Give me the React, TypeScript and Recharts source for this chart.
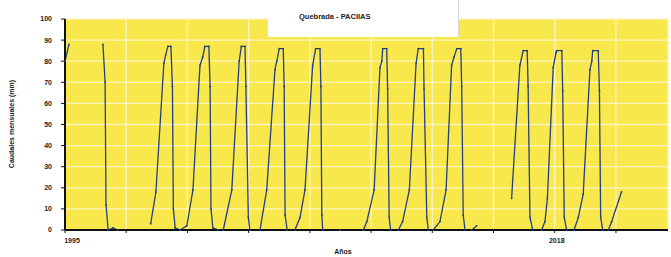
import { LineChart, Line, XAxis, YAxis, CartesianGrid } from 'recharts'

// time in months from the first record, flow (null = gap)
const months = [
  0, 1.3, 6,
  12.4, 13.1, 13.4, 14.1, 15.7, 17.3, 22,
  28.0, 29.7, 32.3, 32.9, 33.6, 34.6, 35.1, 35.4, 36.0, 37.6,
  39.8, 41.8, 44.1, 45.0, 45.7, 47.0, 47.4, 47.7, 48.3, 50.0,
  51.7, 54.5, 56.9, 57.6, 58.8, 59.1, 59.9, 60.4,
  63.7, 65.9, 68.6, 69.2, 70.0, 71.3, 71.6, 71.9, 72.6,
  75.1, 76.8, 78.4, 80.9, 81.9, 83.3, 83.6, 83.9, 84.2, 89.8,
  97.5, 98.6, 101.0, 102.9, 103.5, 103.8, 105.1, 105.4, 105.9, 106.4,
  108.9, 110.3, 112.5, 114.7, 115.4, 117.1, 117.3, 118.2, 118.7,
  120.3, 122.5, 124.5, 126.3, 127.1, 128.0, 129.3, 129.6, 130.1, 130.7, 132.9, 134.5, 140,
  145.9, 148.6, 149.7, 151.0, 151.3, 151.9, 152.8,
  155.7, 156.8, 157.6, 159.5, 160.4, 160.6, 162.3, 162.6, 163.1, 163.9,
  166.3, 167.7, 169.3, 171.5, 172.1, 172.4, 174.2, 174.6, 175.0, 175.7, 177.5,
  178.6, 181.8,
]

const caudal: (number | null)[] = [
  80, 88, null,
  88, 70, 12, 0, 1, 0, null,
  3, 18, 79, 83, 87, 87, 68, 10, 1, 0,
  2, 19, 78, 82, 87, 87, 68, 10, 1, 0,
  0, 19, 80, 87, 87, 68, 6, 0,
  0, 19, 76, 80, 86, 86, 68, 7, 0,
  0, 6, 19, 78, 86, 86, 68, 7, 0, 0,
  0, 4, 19, 77, 80, 86, 86, 67, 6, 0,
  0, 4, 19, 79, 86, 86, 67, 6, 0,
  0, 4, 19, 78, 82, 86, 86, 68, 7, 0, 0, 2, null,
  15, 78, 85, 85, 68, 6, 0,
  0, 4, 15, 77, 84, 85, 85, 66, 6, 0,
  0, 6, 17, 76, 80, 85, 85, 66, 6, 0, 0,
  4, 18,
]

const yTicks = [0, 10, 20, 30, 40, 50, 60, 70, 80, 90, 100]
const xTicks = [0, 20, 40, 60, 80, 100, 120, 140, 160, 180]
const xLabels: Record<number, string> = { 0: '1995', 160: '2018' }

const title = 'Quebrada - PACIIAS'
const yTitle = 'Caudales mensuales (mm)'
const xTitle = 'Años'

const data = months.map((t, i) => ({ t, q: caudal[i] }))

const FONT = '"Liberation Sans", Arial, sans-serif'

function XTick({ x, y, payload }: any) {
  const label = xLabels[payload.value] ?? ''
  if (!label) return null
  return (
    <text x={x + (payload.value === 0 ? 7 : 2)} y={y + 8} textAnchor="middle"
      fontSize={7} fontWeight="bold" fill="#222" fontFamily={FONT}>
      {label}
    </text>
  )
}

function YTitle() {
  return (
    <text x={14} y={124} transform="rotate(-90 14 124)" textAnchor="middle"
      fontSize={7} fontWeight="bold" fill="#222" fontFamily={FONT}>
      {yTitle}
    </text>
  )
}

function XTitle() {
  return (
    <text x={343} y={254} textAnchor="middle" fontSize={7} fontWeight="bold"
      fill="#222" fontFamily={FONT}>
      {xTitle}
    </text>
  )
}

export default function App() {
  return (
    <div style={{ position: 'absolute', left: 0, top: 0, width: 671, height: 257, background: '#fff' }}>
      <LineChart width={671} height={257} data={data}
        margin={{ top: 19, right: 3, bottom: 0, left: 0 }}>
        <CartesianGrid fill="#f9e84c" fillOpacity={1} stroke="#fdf4c0" strokeWidth={1.3} />
        <XAxis dataKey="t" type="number" domain={[0, 197]} ticks={xTicks} height={27}
          interval={0} tick={<XTick />} tickSize={3} stroke="#111" strokeWidth={2}
          tickLine={{ stroke: '#111', strokeWidth: 1 }} label={<XTitle />} />
        <YAxis domain={[0, 100]} ticks={yTicks} width={65} interval={0} tickSize={4}
          tickMargin={9} stroke="#111" strokeWidth={2}
          tickLine={{ stroke: '#111', strokeWidth: 1 }}
          tick={{ fontSize: 7, fontWeight: 'bold', fill: '#222', fontFamily: FONT }}
          label={<YTitle />} />
        <Line dataKey="q" type="linear" stroke="#24407c" strokeWidth={1.3}
          dot={{ r: 0.9, fill: '#24407c', stroke: 'none' }}
          connectNulls={false} isAnimationActive={false} />
      </LineChart>
      <div style={{
        position: 'absolute', left: 268, top: 0, width: 190, height: 37,
        background: '#fff', borderRight: '1px solid #d6d6d6',
      }} />
      <div style={{
        position: 'absolute', left: 299, top: 12, fontFamily: FONT, fontSize: 7.5,
        fontWeight: 'bold', color: '#222', whiteSpace: 'nowrap',
      }}>
        {title}
      </div>
    </div>
  )
}
